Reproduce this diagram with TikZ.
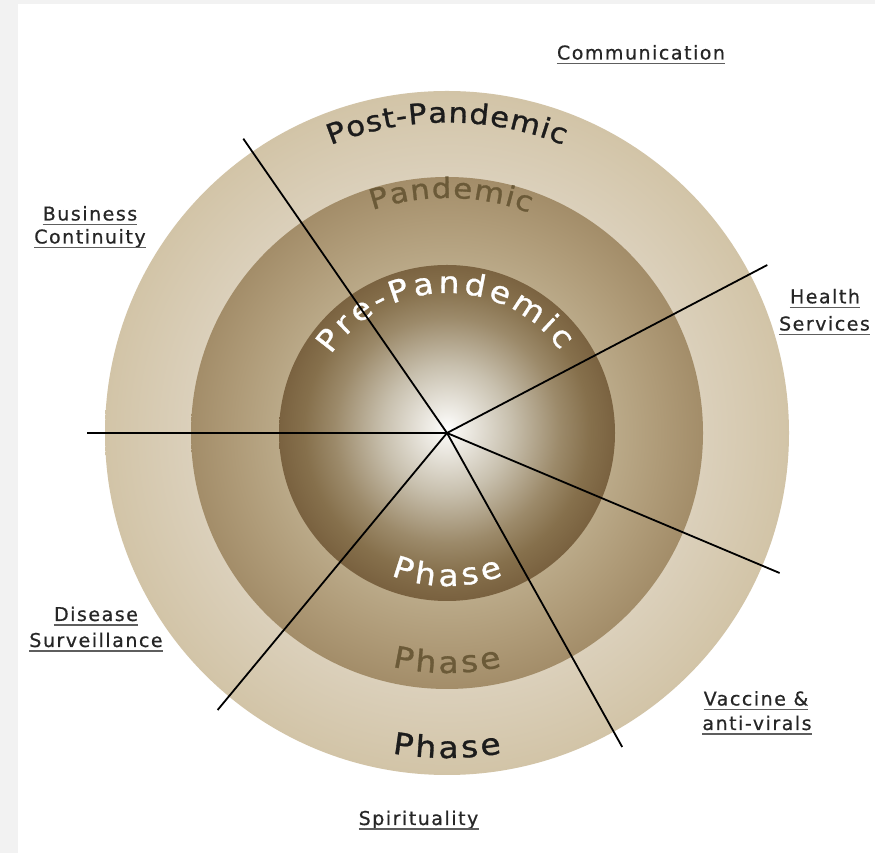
\documentclass[tikz,border=0pt]{standalone}
\usepackage{fontspec}
\setmainfont{DejaVu Sans}
\newfontfamily\labfont[LetterSpace=8,FakeBold=0.6]{DejaVu Sans}
\newfontfamily\arcfam[FakeStretch=1.1,FakeBold=1]{DejaVu Sans}
\usetikzlibrary{decorations.text,calc}
\definecolor{outA}{HTML}{DBD0BB}
\definecolor{outB}{HTML}{D2C4A7}
\definecolor{midA}{HTML}{BAA988}
\definecolor{midM}{HTML}{AF9B78}
\definecolor{midB}{HTML}{A38D69}
\definecolor{ballA}{HTML}{F2F0EB}
\definecolor{ballB}{HTML}{C8C0AE}
\definecolor{ballD}{HTML}{9C8A6A}
\definecolor{ballE}{HTML}{86704C}
\definecolor{ballF}{HTML}{7A6240}
\definecolor{postcol}{HTML}{1C1C1C}
\definecolor{pancol}{HTML}{6B5A38}
\definecolor{labcol}{HTML}{262626}
\definecolor{ulcol}{HTML}{5E5E5E}
\definecolor{framecol}{HTML}{F2F2F2}
\pgfdeclareradialshading{outerring}{\pgfpoint{0bp}{0bp}}{color(0bp)=(outA); color(18.7bp)=(outA); color(25bp)=(outB); color(50bp)=(outB)}
\pgfdeclareradialshading{midring}{\pgfpoint{0bp}{0bp}}{color(0bp)=(midA); color(16.4bp)=(midA); color(20.7bp)=(midM); color(25bp)=(midB); color(50bp)=(midB)}
\pgfdeclareradialshading{innerball}{\pgfpoint{0bp}{0.7bp}}{color(0bp)=(white); color(2bp)=(ballA); color(9.5bp)=(ballB); color(16.75bp)=(ballD); color(21.25bp)=(ballE); color(25bp)=(ballF); color(50bp)=(ballF)}
\newcommand\arcfont{\arcfam\fontsize{28}{30}\selectfont}
\newcommand\phasefont{\arcfam\fontsize{30}{32}\selectfont}
\newcommand\prefont{\arcfam\fontsize{30}{32}\selectfont}
\tikzset{
  ray/.style={draw=black, line width=1.8pt},
  lab/.style={font=\labfont\fontsize{19}{22}\selectfont, text=labcol, inner sep=0pt, anchor=base},
  uline/.style={draw=ulcol, line width=1.3pt},
}
\begin{document}
\begin{tikzpicture}[x=1pt,y=1pt]
\useasboundingbox (0,0) rectangle (875,853);
\fill[framecol] (0,0) rectangle (875,853);
\fill[white] (18,0) rectangle (875,849);
\coordinate (c) at (447,420);
% rings
\shade[shading=outerring] (c) circle[radius=342pt];
\shade[shading=midring] (c) circle[radius=256pt];
\shade[shading=innerball] (c) circle[radius=168pt];
% curved texts
\path[decorate, decoration={text along path, text align=fit to path, text color=postcol, text={|\arcfont|Post-Pandemic}}]
  ($(c)+(112:310.5pt)$) arc[start angle=112, end angle=68, radius=310.5pt];
\path[decorate, decoration={text along path, text align=fit to path, text color=pancol, text={|\arcfont|Pandemic}}]
  ($(c)+(108.5:235pt)$) arc[start angle=108.5, end angle=69.5, radius=235pt];
\path[decorate, decoration={text along path, text align=fit to path, text color=white, text={|\prefont|Pre-Pandemic}}]
  ($(c)+(146:140pt)$) arc[start angle=146, end angle=36, radius=140pt];
\path[decorate, decoration={text along path, text align=fit to path, text color=white, text={|\phasefont|Phase}}]
  ($(c)+(248.5:153pt)$) arc[start angle=248.5, end angle=291.5, radius=153pt];
\path[decorate, decoration={text along path, text align=fit to path, text color=pancol, text={|\phasefont|Phase}}]
  ($(c)+(256.8:240pt)$) arc[start angle=256.8, end angle=283.2, radius=240pt];
\path[decorate, decoration={text along path, text align=fit to path, text color=postcol, text={|\phasefont|Phase}}]
  ($(c)+(260.3:325pt)$) arc[start angle=260.3, end angle=279.7, radius=325pt];
% rays
\coordinate (ul) at (243.3,714.3);
\coordinate (ur) at (767.3,588);
\coordinate (lf) at (86.5,420);
\coordinate (lr) at (779.6,280);
\coordinate (br) at (622.2,106);
\coordinate (ll) at (217.6,143);
\foreach \e in {ul,ur,lf,lr,br,ll} \draw[ray, line cap=butt] (c) -- (\e);
% labels
\node[lab] (comm) at (641,793.5) {Communication};
\node[lab] (bus) at (90,632.5) {Business};
\node[lab] (cont) at (90,609.5) {Continuity};
\node[lab] (hea) at (825,549.7) {Health};
\node[lab] (ser) at (824.5,522.5) {Services};
\node[lab] (dis) at (96,232) {Disease};
\node[lab] (sur) at (96,206) {Surveillance};
\node[lab] (vac) at (756,147.5) {Vaccine \&};
\node[lab] (ant) at (757,123) {anti-virals};
\node[lab] (spi) at (418.5,28) {Spirituality};
\foreach \n in {comm,bus,cont,hea,ser,dis,sur,vac,ant,spi}
  \draw[uline] ([yshift=-4pt]\n.base west) -- ([yshift=-4pt]\n.base east);
\end{tikzpicture}
\end{document}
